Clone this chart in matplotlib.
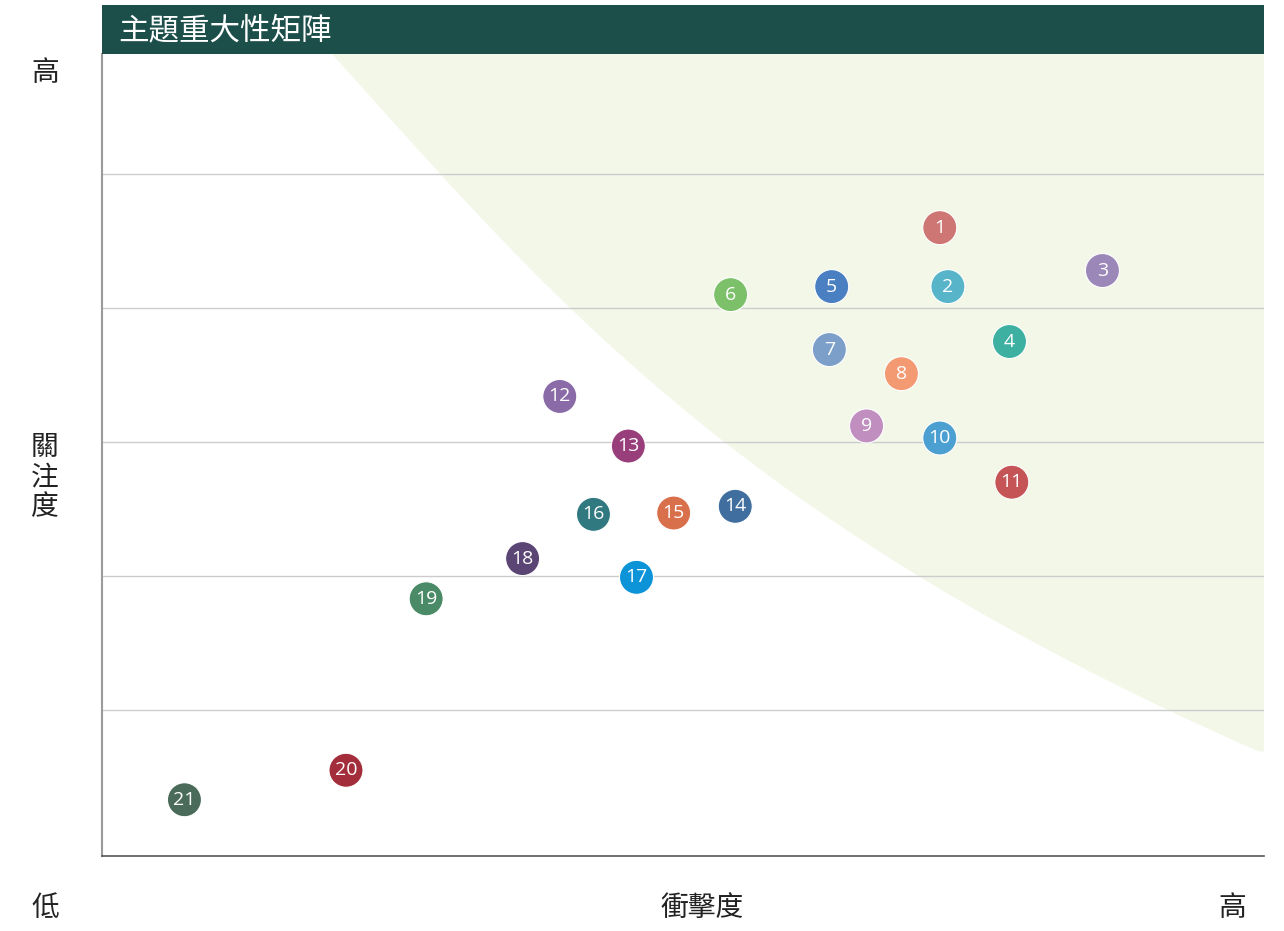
import numpy as np
import matplotlib.pyplot as plt

plt.rcParams['font.family'] = ['Noto Sans CJK TC', 'DejaVu Sans']

# topic numbers, impact (x) and attention (y)
labels = [str(i) for i in range(1, 22)]
impact = [7.21, 7.28, 8.61, 7.81, 6.28, 5.41, 6.26, 6.88, 6.58, 7.21, 7.83,
          3.94, 4.53, 5.45, 4.92, 4.23, 4.60, 3.62, 2.79, 2.10, 0.71]
attention = [4.60, 4.16, 4.28, 3.75, 4.16, 4.10, 3.69, 3.51, 3.12, 3.03, 2.70,
             3.34, 2.97, 2.52, 2.47, 2.46, 1.99, 2.13, 1.83, 0.55, 0.33]
colors = ["#cd7673", "#58b5c9", "#9b87b8", "#3db0a1", "#4a7fc1", "#7dc06a",
          "#7b9fc9", "#f49a72", "#c08fc0", "#4b9fd1", "#c55457", "#8a6ba8",
          "#983f7b", "#3f6e9f", "#d9704c", "#317980", "#0c93d8", "#5a4574",
          "#4a8a66", "#a32d3a", "#4a6b5a"]

# edge of the shaded "material" zone
zone_x = [1.99, 2.88, 4.03, 5.40, 7.01, 9.12, 10.0]
zone_y = [5.90, 5.0, 4.0, 3.0, 2.0, 1.0, 0.69]

fig = plt.figure(figsize=(12.84, 9.31), dpi=100)
ax = fig.add_axes([0.0794, 0.0806, 0.905, 0.8614])
ax.set_xlim(0, 10)
ax.set_ylim(-0.0896, 5.896)

# smooth the zone edge
coef = np.polyfit(zone_y, zone_x, 3)
yy = np.linspace(zone_y[-1], 5.896, 200)
xx = np.polyval(coef, yy)
poly_x = list(xx) + [10.0, 10.0]
poly_y = list(yy) + [5.896, zone_y[-1]]
ax.fill(poly_x, poly_y, color="#f3f7e8", lw=0, zorder=0)

for g in [1, 2, 3, 4, 5]:
    ax.axhline(g, color="#cccccc", lw=1, zorder=1)

ax.scatter(impact, attention, s=600, c=colors, edgecolors="white", linewidths=0.8, zorder=3)
for lab, x, y in zip(labels, impact, attention):
    ax.text(x, y, lab, color="white", fontsize=14, ha="center", va="center",
            family=["Open Sans", "DejaVu Sans"], zorder=4)

ax.set_xticks([])
ax.set_yticks([])
for s in ["top", "right"]:
    ax.spines[s].set_visible(False)
ax.spines["left"].set_color("#9a9a9a")
ax.spines["left"].set_linewidth(1.5)
ax.spines["bottom"].set_color("#555555")
ax.spines["bottom"].set_linewidth(1.2)

# title bar
tb = fig.add_axes([0.0794, 0.942, 0.905, 0.0526])
tb.set_facecolor("#1c4f4a")
tb.set_xticks([])
tb.set_yticks([])
for s in tb.spines.values():
    s.set_visible(False)
tb.text(0.0138, 0.47, "主題重大性矩陣", color="white", fontsize=22, ha="left",
        va="center", transform=tb.transAxes, fontweight="medium")

kw = dict(fontsize=20, ha="center", va="center", color="#222222", fontweight="medium")
fig.text(45 / 1284, 1 - 73 / 931, "高", **kw)
fig.text(45 / 1284, 1 - 477 / 931, "關\n注\n度", linespacing=1.0, **kw)
fig.text(45 / 1284, 1 - 908 / 931, "低", **kw)
fig.text(702 / 1284, 1 - 908 / 931, "衝擊度", **kw)
fig.text(1232 / 1284, 1 - 908 / 931, "高", **kw)

fig.savefig("out.png", dpi=100)
